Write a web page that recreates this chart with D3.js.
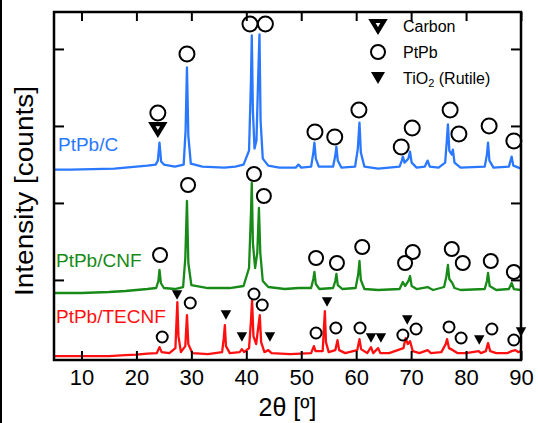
<!DOCTYPE html>
<html>
<head>
<meta charset="utf-8">
<script src="https://cdn.jsdelivr.net/npm/d3@7"></script>
<style>
  body { margin: 0; background: #fff; }
  svg { display: block; }
  text { font-family: "Liberation Sans", Arial, Helvetica, sans-serif; }
</style>
</head>
<body>
<svg id="chart" width="538" height="423"></svg>
<script>
// 2theta ticks
const xTicks = [10, 20, 30, 40, 50, 60, 70, 80, 90];
const yTicks = [1000, 2000, 3000, 4000];

const seriesNames = ["PtPb/C", "PtPb/CNF", "PtPb/TECNF"];
const seriesColors = ["#2a78ff", "#178a17", "#ff1010"];
// vertical offsets of the stacked patterns (counts)
const seriesOffsets = [2420, 830, 10];

// [2theta, counts above own baseline]
const patternC = [
  [5, 13], [8, 13], [12, 20], [16, 26], [18, 39], [20, 52], [22, 65], [23.5, 78],
  [23.9, 130], [24.2, 364], [24.5, 117], [25, 78], [27, 52], [28.6, 78], [28.95, 520],
  [29.2, 1340], [29.45, 455], [29.9, 91], [32, 52], [36, 39], [38, 52], [39.5, 78],
  [40.5, 260], [40.85, 1170], [41.0, 1755], [41.2, 780], [41.5, 286], [41.85, 390],
  [42.2, 1300], [42.4, 1770], [42.6, 650], [43, 156], [44, 65], [46, 39], [49, 39],
  [49.5, 78], [50, 39], [51.8, 52], [52.2, 234], [52.4, 364], [52.65, 156], [53.2, 52],
  [55.8, 52], [56.2, 195], [56.4, 312], [56.65, 130], [57.3, 39], [59.8, 52], [60.3, 286],
  [60.6, 624], [60.85, 234], [61.5, 52], [64, 26], [67.9, 52], [68.3, 130], [68.5, 182],
  [68.8, 104], [69.5, 156], [69.8, 247], [70.1, 104], [71, 39], [72.5, 52], [73, 130],
  [73.4, 52], [75, 39], [76.2, 104], [76.5, 390], [76.7, 600], [76.95, 260], [77.4, 208],
  [77.6, 273], [77.9, 104], [79, 39], [83.4, 52], [83.8, 208], [84.0, 364], [84.25, 130],
  [85, 39], [87.8, 52], [88.3, 182], [88.6, 65], [90, 26]
];

const patternCNF = [
  [5, 0], [10, 0], [15, 13], [18, 26], [20, 39], [22, 52], [23.6, 65], [24.0, 156],
  [24.2, 300], [24.45, 130], [25, 65], [27, 52], [28.5, 78], [28.9, 455], [29.2, 1195],
  [29.45, 390], [30, 104], [33, 65], [37, 65], [39.5, 91], [40.5, 325], [40.85, 1040],
  [41.0, 1430], [41.2, 650], [41.6, 325], [42.0, 520], [42.3, 1105], [42.55, 520],
  [43, 156], [44, 78], [47, 52], [49.5, 65], [51.8, 65], [52.2, 182], [52.4, 273],
  [52.65, 117], [53.3, 52], [55.8, 65], [56.2, 156], [56.4, 247], [56.65, 104], [57.5, 52],
  [59.9, 65], [60.35, 234], [60.6, 416], [60.85, 169], [61.5, 52], [64, 39], [67.9, 52],
  [68.5, 143], [68.9, 91], [69.5, 156], [69.8, 221], [70.1, 91], [71, 52], [73, 78],
  [74, 39], [76.0, 78], [76.4, 208], [76.7, 364], [76.95, 182], [77.5, 130], [77.9, 65],
  [79, 39], [83.4, 52], [83.8, 156], [84.0, 260], [84.3, 91], [85.5, 39], [87.8, 52],
  [88.3, 130], [88.7, 52], [90, 39]
];

const patternTECNF = [
  [5, 0], [10, 0], [15, 0], [18, 13], [20, 20], [22, 33], [23.7, 39], [24.2, 117],
  [24.6, 52], [26, 39], [27.1, 104], [27.3, 455], [27.45, 700], [27.65, 260], [28.1, 52],
  [28.9, 130], [29.2, 533], [29.45, 156], [30.2, 39], [33, 26], [35.6, 52], [35.9, 234],
  [36.1, 403], [36.3, 130], [37, 39], [38.8, 52], [39.2, 91], [39.6, 52], [40.5, 104],
  [40.85, 455], [41.05, 728], [41.3, 260], [41.8, 156], [42.2, 390], [42.45, 533],
  [42.7, 182], [43.3, 52], [44.0, 78], [44.6, 39], [48, 26], [51.8, 39], [52.3, 130],
  [52.6, 65], [53.9, 65], [54.15, 390], [54.3, 585], [54.5, 182], [55, 52], [56.2, 78],
  [56.6, 208], [56.9, 78], [58, 39], [60.2, 78], [60.6, 221], [60.9, 91], [62, 39],
  [62.7, 117], [63.1, 39], [64.0, 104], [64.4, 39], [66, 39], [68.6, 104], [69.0, 234],
  [69.4, 156], [69.8, 195], [70.3, 65], [71.5, 39], [73, 78], [73.6, 39], [75.5, 52],
  [76.3, 156], [76.55, 221], [76.9, 104], [77.6, 78], [78.5, 39], [80, 39], [82.3, 65],
  [82.7, 39], [83.6, 65], [84.0, 169], [84.4, 65], [85.5, 39], [87.5, 39], [88.3, 65],
  [89.0, 78], [89.5, 52], [90, 65]
];

const patterns = [patternC, patternCNF, patternTECNF];

// phase markers: [2theta, counts, phase]  c = PtPb, v = Carbon, t = TiO2 rutile
const markersC = [
  [23.9, 2960, "v"], [23.9, 3168, "c"], [29.2, 3935, "c"], [40.67, 4324, "c"],
  [43.48, 4324, "c"], [52.5, 2922, "c"], [56.1, 2857, "c"], [60.5, 3207, "c"],
  [68.2, 2727, "c"], [70.2, 2973, "c"], [77.1, 3207, "c"], [78.7, 2896, "c"],
  [84.2, 3000, "c"], [88.7, 2805, "c"]
];
const markersCNF = [
  [24.3, 1324, "c"], [29.4, 2233, "c"], [41.4, 2376, "c"], [43.2, 2090, "c"],
  [52.7, 1285, "c"], [56.5, 1220, "c"], [61.1, 1428, "c"], [68.9, 1220, "c"],
  [70.3, 1363, "c"], [77.4, 1402, "c"], [79.4, 1220, "c"], [84.5, 1246, "c"],
  [88.7, 1103, "c"]
];
const markersTECNF = [
  [24.7, 259, "c"], [27.4, 804, "t"], [29.8, 700, "c"], [36.3, 545, "t"],
  [39.2, 259, "t"], [41.4, 817, "c"], [42.9, 674, "c"], [44.3, 259, "t"],
  [52.7, 311, "c"], [54.7, 713, "t"], [56.3, 376, "c"], [60.7, 376, "c"],
  [62.7, 246, "t"], [64.5, 246, "t"], [68.5, 285, "c"], [69.3, 480, "t"],
  [70.9, 363, "c"], [76.9, 389, "c"], [79.1, 246, "c"], [82.4, 220, "t"],
  [84.7, 363, "c"], [88.7, 220, "c"], [90.0, 324, "t"]
];
const markerSets = [markersC, markersCNF, markersTECNF];
const markerRadius = [7.5, 7, 5.5];

const legendLabels = ["Carbon", "PtPb", "TiO2 (Rutile)"];
const legendKinds = ["v", "c", "t"];

const svg = d3.select("#chart"),
  width = +svg.attr("width"),
  height = +svg.attr("height");

const plot = { left: 54, right: 521, top: 12, bottom: 360 };

const x = d3.scaleLinear().domain([5, 90]).range([plot.left, plot.right]);
const y = d3.scaleLinear().domain([-40, 4480]).range([plot.bottom, plot.top]);

// left border line of the picture
svg.append("line")
  .attr("x1", 1).attr("x2", 1).attr("y1", 0).attr("y2", height)
  .attr("stroke", "#000").attr("stroke-width", 2);

svg.append("clipPath").attr("id", "clip")
  .append("rect")
  .attr("x", plot.left).attr("y", plot.top)
  .attr("width", plot.right - plot.left).attr("height", plot.bottom - plot.top);

// patterns
patterns.forEach(function (data, i) {
  const line = d3.line()
    .x(function (d) { return x(d[0]); })
    .y(function (d) { return y(d[1] + seriesOffsets[i]); });

  svg.append("path")
    .datum(data)
    .attr("clip-path", "url(#clip)")
    .attr("fill", "none")
    .attr("stroke", seriesColors[i])
    .attr("stroke-width", 2.3)
    .attr("stroke-linejoin", "round")
    .attr("d", line);
});

function triPath(w, h) {
  return "M" + (-w / 2) + "," + (-h / 2) + "L" + (w / 2) + "," + (-h / 2) + "L0," + (h / 2) + "Z";
}

function drawMarker(g, kind, r) {
  if (kind == "c") {
    g.append("circle").attr("r", r)
      .attr("fill", "none").attr("stroke", "#000").attr("stroke-width", 2);
  } else if (kind == "t") {
    g.append("path").attr("d", triPath(r * 1.9, r * 1.7)).attr("fill", "#000");
  } else {
    // open carbon triangle, drawn with a heavy outline
    g.append("path").attr("d", triPath(12, 10))
      .attr("fill", "none").attr("stroke", "#000")
      .attr("stroke-width", 4.2).attr("stroke-linejoin", "miter");
  }
}

markerSets.forEach(function (set, i) {
  set.forEach(function (m) {
    const g = svg.append("g")
      .attr("transform", "translate(" + x(m[0]) + "," + y(m[1]) + ")");
    drawMarker(g, m[2], markerRadius[i]);
  });
});

// series labels
const labelPos = [[58, 151], [56, 267], [56, 323]];
seriesNames.forEach(function (name, i) {
  svg.append("text")
    .attr("x", labelPos[i][0]).attr("y", labelPos[i][1])
    .attr("fill", seriesColors[i])
    .style("font-size", "19px")
    .text(name);
});

// legend
legendLabels.forEach(function (label, i) {
  const gy = 26 + i * 26;
  const g = svg.append("g").attr("transform", "translate(378," + gy + ")");
  if (legendKinds[i] == "c") drawMarker(g, "c", 7);
  else if (legendKinds[i] == "t") g.append("path").attr("d", triPath(14, 12)).attr("fill", "#000");
  else drawMarker(g, "v", 7);

  const t = svg.append("text")
    .attr("x", 403).attr("y", gy + 6)
    .style("font-size", "16px");
  if (label.indexOf("TiO2") == 0) {
    t.append("tspan").text("TiO");
    t.append("tspan").attr("dy", 3).style("font-size", "11px").text("2");
    t.append("tspan").attr("dy", -3).text(" (Rutile)");
  } else {
    t.text(label);
  }
});

// axes
const axisBottom = svg.append("g")
  .attr("transform", "translate(0," + plot.bottom + ")")
  .call(d3.axisBottom(x).tickValues(xTicks).tickSizeInner(-9).tickSizeOuter(0).tickPadding(9));
axisBottom.selectAll("text").style("font-size", "22px").attr("fill", "#000");

svg.append("g")
  .attr("transform", "translate(0," + plot.top + ")")
  .call(d3.axisTop(x).tickValues(xTicks).tickSizeInner(-9).tickSizeOuter(0).tickFormat(""));

svg.append("g")
  .attr("transform", "translate(" + plot.left + ",0)")
  .call(d3.axisLeft(y).tickValues(yTicks).tickSizeInner(-10).tickSizeOuter(0).tickFormat(""));

svg.append("g")
  .attr("transform", "translate(" + plot.right + ",0)")
  .call(d3.axisRight(y).tickValues(yTicks).tickSizeInner(-10).tickSizeOuter(0).tickFormat(""));

svg.selectAll(".domain").remove();
svg.selectAll(".tick line").attr("stroke", "#000").attr("stroke-width", 2);

svg.append("rect")
  .attr("x", plot.left).attr("y", plot.top)
  .attr("width", plot.right - plot.left).attr("height", plot.bottom - plot.top)
  .attr("fill", "none").attr("stroke", "#000").attr("stroke-width", 2.5);

// axis titles
svg.append("text")
  .attr("x", (plot.left + plot.right) / 2).attr("y", 416)
  .attr("text-anchor", "middle")
  .style("font-size", "25px")
  .text("2\u03b8 [\u00ba]");

svg.append("text")
  .attr("transform", "translate(33,191) rotate(-90)")
  .attr("text-anchor", "middle")
  .attr("textLength", 210)
  .attr("lengthAdjust", "spacingAndGlyphs")
  .style("font-size", "25px")
  .text("Intensity [counts]");
</script>
</body>
</html>
